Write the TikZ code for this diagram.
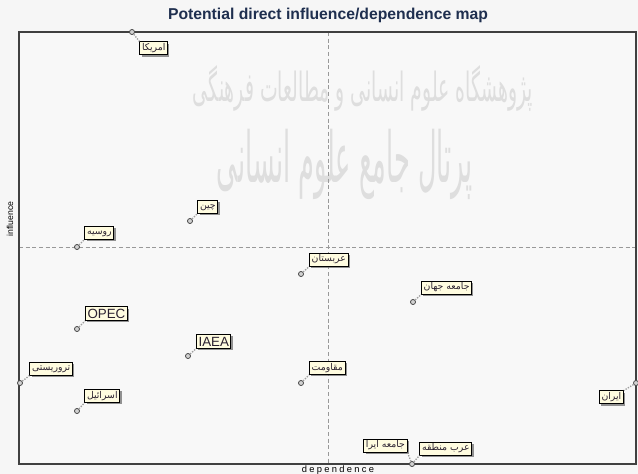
\documentclass[tikz,border=0pt]{standalone}
\usepackage{fontspec}
\usepackage{graphicx}
\setmainfont{Liberation Sans}
\newfontfamily\arabicfont[Script=Arabic]{DejaVu Sans}
\TeXXeTstate=1
\usetikzlibrary{positioning,shadows}
\definecolor{pagebg}{HTML}{F6F6F6}
\definecolor{plotbg}{HTML}{F8F8F8}
\definecolor{titleblue}{HTML}{1F2F4F}
\definecolor{tagfill}{HTML}{FFFCE0}
\definecolor{tagtext}{HTML}{2A2030}
\definecolor{wmark}{HTML}{DEDEDE}
\newcommand{\fa}[1]{{\arabicfont\beginR #1\endR}}
\tikzset{
  actor/.style={circle,draw=black!70,fill=gray!35,line width=.6pt,inner sep=0pt,minimum size=3.8pt},
  tag/.style={draw=black,line width=.7pt,fill=tagfill,text=tagtext,inner sep=1.6pt,
    font=\fontsize{7}{8}\selectfont,text height=5pt,text depth=1.5pt,
    drop shadow={shadow xshift=1.3pt,shadow yshift=-1.3pt,fill=black!60,opacity=.7}},
  bigtag/.style={tag,font=\fontsize{10}{11}\selectfont,text height=7.2pt,text depth=0pt,inner sep=1.5pt},
  leader/.style={draw=gray!75,densely dotted,line width=1pt},
  axisline/.style={draw=gray!80,densely dashed,line width=.4pt}
}
\begin{document}
\begin{tikzpicture}[x=.75pt,y=-.75pt]
  \useasboundingbox (0,0) rectangle (638,474);
  \fill[pagebg] (0,0) rectangle (638,474);
  \fill[plotbg] (19,32) rectangle (636,464);
  % watermark
  \node[text=wmark] (wm1) at (363,88) {\resizebox{255pt}{27pt}{\fa{پژوهشگاه علوم انسانی و مطالعات فرهنگی}}};
  \node[text=wmark] (wm2) at (345,164) {\resizebox{192pt}{40pt}{\fa{پرتال جامع علوم انسانی}}};
  % axes
  \draw[axisline] (19,247) -- (636,247);
  \draw[axisline] (328,32) -- (328,464);
  \draw[black!75,line width=1.2pt] (19,32) rectangle (636,464);
  \node[font=\bfseries\fontsize{11.8}{13}\selectfont,text=titleblue] (title) at (328,15) {Potential direct influence/dependence map};
  \node[rotate=90,font=\fontsize{6.5}{7}\selectfont] (yl) at (10,219) {influence};
  \node[font=\fontsize{7}{8}\selectfont\addfontfeature{LetterSpace=25}] (xl) at (338,470) {dependence};
  % actors
  \node[actor] (pUS) at (132,32) {};
  \node[actor] (pChina) at (190,221) {};
  \node[actor] (pRus) at (77,247) {};
  \node[actor] (pOpec) at (77,329) {};
  \node[actor] (pIaea) at (188,356) {};
  \node[actor] (pTer) at (20,383) {};
  \node[actor] (pIsr) at (77,411) {};
  \node[actor] (pSaudi) at (301,274) {};
  \node[actor] (pWorld) at (413,302) {};
  \node[actor] (pRes) at (301,383) {};
  \node[actor] (pIran) at (636,383) {};
  \node[actor] (pReg) at (412,464) {};
  % labels
  \node[tag,below right=5.5pt and 4pt of pUS] (lUS) {\fa{امریکا}};
  \node[tag,above right=4pt and 4pt of pChina] (lChina) {\fa{چین}};
  \node[tag,above right=4pt and 4pt of pRus] (lRus) {\fa{روسیه}};
  \node[bigtag,above right=4.5pt and 4.5pt of pOpec] (lOpec) {OPEC};
  \node[bigtag,above right=4pt and 4.5pt of pIaea] (lIaea) {IAEA};
  \node[tag,above right=4pt and 5.5pt of pTer] (lTer) {\fa{تروریستی}};
  \node[tag,above right=4.5pt and 4pt of pIsr] (lIsr) {\fa{اسرائیل}};
  \node[tag,above right=4pt and 4.5pt of pSaudi] (lSaudi) {\fa{عربستان}};
  \node[tag,above right=4pt and 4.5pt of pWorld] (lWorld) {\fa{جامعه جهان}};
  \node[tag,above right=4.5pt and 4.5pt of pRes] (lRes) {\fa{مقاومت}};
  \node[tag,below left=4pt and 7.5pt of pIran] (lIran) {\fa{ایران}};
  \node[tag,above left=7pt and 1.8pt of pReg] (lSoc) {\fa{جامعه ایرا}};
  \node[tag,above right=4.8pt and 4pt of pReg] (lReg) {\fa{عرب منطقه}};
  % leaders
  \draw[leader] (pUS) -- (lUS.north west);
  \foreach \p/\l in {pChina/lChina,pRus/lRus,pOpec/lOpec,pIaea/lIaea,pTer/lTer,pIsr/lIsr,pSaudi/lSaudi,pWorld/lWorld,pRes/lRes,pReg/lReg}
    \draw[leader] (\p) -- (\l.south west);
  \draw[leader] (pIran) -- (lIran.north east);
  \draw[leader] (pReg) -- (lSoc.south east);
\end{tikzpicture}
\end{document}
